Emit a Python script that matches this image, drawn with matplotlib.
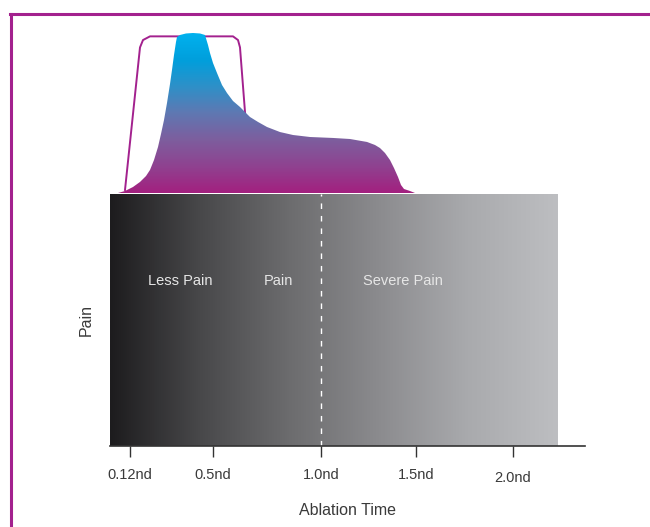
import numpy as np
import matplotlib.pyplot as plt
import matplotlib.transforms as mtransforms
from matplotlib.colors import LinearSegmentedColormap
from matplotlib.patches import Polygon
from matplotlib.lines import Line2D

plt.rcParams["font.family"] = ["Liberation Sans", "DejaVu Sans"]

# schematic x positions (arbitrary units along the ablation-time axis)
tick_pos = [20, 103, 211, 306, 403]
tick_labels = ["0.12nd", "0.5nd", "1.0nd", "1.5nd", "2.0nd"]
threshold_pos = 211
band_end = 448
axis_end = 475

# pain intensity curve (relative height 0-100)
curve_x = [8, 15, 23, 30, 36, 40, 44, 48, 51, 54, 57, 60, 62, 64, 66, 67,
           70, 76, 83, 90, 95,
           98, 100, 103, 107, 112, 117, 123, 130, 135, 140, 148, 157, 170, 183,
           200, 223, 240, 257, 265, 270, 275, 280, 284, 288, 291, 294, 300, 305]
curve_y = [0, 1.25, 3.75, 6.9, 10.6, 14.4, 20.6, 28.75, 36.9, 45.6, 56.25, 68.1,
           76.9, 86.25, 94.4, 97.5,
           98.75, 99.7, 100, 99.7, 98.75,
           92.5, 87.5, 81.25, 75, 67.5, 62.5, 57.5, 53.75, 50.6, 47.5, 44.4, 41.25,
           38.1, 36.25, 35, 34.4, 33.75, 31.9, 30, 28.1, 25, 20.6, 15.6, 10, 5,
           2.5, 1.25, 0]

# envelope outline
env_x = [15, 30, 33, 40, 123, 128, 130, 135, 138]
env_y = [1.9, 91, 95.6, 97.9, 97.9, 95.6, 91, 50.6, 30]

zone_labels = ["Less Pain", "Pain", "Severe Pain"]
zone_pos = [70, 168, 293]

MAGENTA = "#a3218e"
TEXT = "#3a3a3a"

fig = plt.figure(figsize=(6.5, 5.27), dpi=100)
W, H = 650, 527

# outer frame (top and left only)
fig.add_artist(Line2D([10 / W, 1], [1 - 13.5 / H, 1 - 13.5 / H], color=MAGENTA, lw=2.2))
fig.add_artist(Line2D([10.5 / W, 10.5 / W], [0, 1 - 13.5 / H], color=MAGENTA, lw=2.2))

# main band axes
ax = fig.add_axes([110 / W, 1 - 446 / H, 475 / W, 252 / H])
ax.set_xlim(0, axis_end)
ax.set_ylim(0, 1)

gray = LinearSegmentedColormap.from_list(
    "gray_band", ["#1d1c1e", "#48484a", "#6c6c6e", "#8b8b8e", "#a9aaad", "#bdbec1"])
grad = np.linspace(0, 1, 256).reshape(1, -1)
ax.imshow(grad, cmap=gray, aspect="auto", extent=(0, band_end, 0, 1), zorder=0)
ax.axvline(threshold_pos, color="white", lw=1, ls=(0, (4, 5)), zorder=2)

for lab, xp in zip(zone_labels, zone_pos):
    ax.text(xp, 0.655, lab, color="#e6e6e6", fontsize=10.5, ha="center", va="center")

for s in ["top", "right", "left"]:
    ax.spines[s].set_visible(False)
ax.spines["bottom"].set_color("#333333")
ax.spines["bottom"].set_linewidth(1.2)
ax.set_yticks([])
ax.set_xticks(tick_pos)
ax.set_xticklabels(tick_labels, fontsize=10.5, color=TEXT)
ax.tick_params(axis="x", length=8, width=1, color="#333333", pad=8, direction="out")
# last label sits a little lower in the original
last = ax.get_xticklabels()[-1]
last.set_transform(last.get_transform() +
                   mtransforms.ScaledTranslation(0, -3 / 100, fig.dpi_scale_trans))
ax.set_xlabel("Ablation Time", fontsize=11.5, color=TEXT, labelpad=13)
ax.set_ylabel("Pain", fontsize=11.5, color=TEXT, labelpad=12)

# top curve axes
ax2 = fig.add_axes([110 / W, 1 - 193 / H, 475 / W, 160 / H])
ax2.set_xlim(0, axis_end)
ax2.set_ylim(0, 100)
ax2.axis("off")

ax2.plot(env_x, env_y, color=MAGENTA, lw=1.4, zorder=1, clip_on=False)

poly = Polygon(np.column_stack([curve_x, curve_y]), closed=True,
               facecolor="none", edgecolor="none")
ax2.add_patch(poly)
cm = LinearSegmentedColormap.from_list(
    "pain", ["#a3207f", "#8f4290", "#7d5e9e", "#5f78b2", "#2e90c8", "#009fdc", "#00b1ee"])
vgrad = np.linspace(0, 1, 256).reshape(-1, 1)
im = ax2.imshow(vgrad, cmap=cm, origin="lower", aspect="auto",
                extent=(0, 320, 0, 100), zorder=2)
im.set_clip_path(poly)
ax2.set_xlim(0, axis_end)
ax2.set_ylim(0, 100)

fig.savefig("out.png", dpi=100)
